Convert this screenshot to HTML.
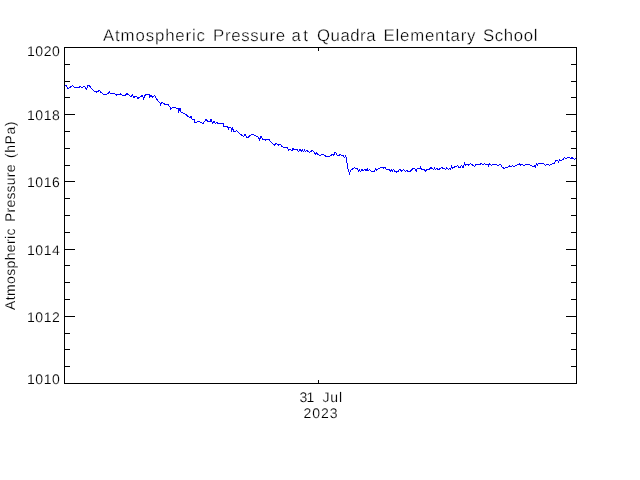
<!DOCTYPE html>
<html><head><meta charset="utf-8"><title>Atmospheric Pressure at Quadra Elementary School</title>
<style>
html,body{margin:0;padding:0;background:#fff;}
svg{display:block;}
text{font-family:"Liberation Sans",sans-serif;fill:#000;stroke:#fff;stroke-width:0.3px;paint-order:fill stroke;text-rendering:geometricPrecision;}
svg{will-change:transform;}
.t{font-size:16.8px;}
.s{font-size:14px;}
.s text{stroke-width:0.15px;}
</style></head>
<body>
<svg width="640" height="480" viewBox="0 0 640 480">
<rect width="640" height="480" fill="#fff"/>
<g fill="#000" shape-rendering="crispEdges">
<rect x="64" y="47" width="513" height="1"/><rect x="64" y="383" width="513" height="1"/>
<rect x="64" y="47" width="1" height="337"/><rect x="576" y="47" width="1" height="337"/>
<rect x="65" y="64" width="5" height="1"/><rect x="571" y="64" width="5" height="1"/><rect x="65" y="81" width="5" height="1"/><rect x="571" y="81" width="5" height="1"/><rect x="65" y="97" width="5" height="1"/><rect x="571" y="97" width="5" height="1"/><rect x="65" y="114" width="10" height="1"/><rect x="566" y="114" width="10" height="1"/><rect x="65" y="131" width="5" height="1"/><rect x="571" y="131" width="5" height="1"/><rect x="65" y="148" width="5" height="1"/><rect x="571" y="148" width="5" height="1"/><rect x="65" y="165" width="5" height="1"/><rect x="571" y="165" width="5" height="1"/><rect x="65" y="181" width="10" height="1"/><rect x="566" y="181" width="10" height="1"/><rect x="65" y="198" width="5" height="1"/><rect x="571" y="198" width="5" height="1"/><rect x="65" y="215" width="5" height="1"/><rect x="571" y="215" width="5" height="1"/><rect x="65" y="232" width="5" height="1"/><rect x="571" y="232" width="5" height="1"/><rect x="65" y="249" width="10" height="1"/><rect x="566" y="249" width="10" height="1"/><rect x="65" y="265" width="5" height="1"/><rect x="571" y="265" width="5" height="1"/><rect x="65" y="282" width="5" height="1"/><rect x="571" y="282" width="5" height="1"/><rect x="65" y="299" width="5" height="1"/><rect x="571" y="299" width="5" height="1"/><rect x="65" y="316" width="10" height="1"/><rect x="566" y="316" width="10" height="1"/><rect x="65" y="333" width="5" height="1"/><rect x="571" y="333" width="5" height="1"/><rect x="65" y="349" width="5" height="1"/><rect x="571" y="349" width="5" height="1"/><rect x="65" y="366" width="5" height="1"/><rect x="571" y="366" width="5" height="1"/><rect x="318" y="48" width="1" height="3"/><rect x="318" y="380" width="1" height="3"/>
</g>
<polyline fill="none" stroke="#0000ff" stroke-width="1" shape-rendering="crispEdges" stroke-linejoin="miter" points="64.5,85.5 66.5,85.5 68,89 70,87.5 72.5,85.5 74.5,87.5 79,87.5 80,86.5 82.5,87.5 84,86.5 85,87 86.5,89 88,85.5 89.5,86 92,89 94,91 96.5,92 99.5,90.5 101,92.5 103,94 106,94.5 108.5,93 109.5,91.5 110.5,94 114,93.5 116.5,95 118,94.5 120.5,94 122,95 125,95.5 127,93.5 129,95 131,97 132.5,95 134,97.5 135,96 136.5,96 138,98.5 140,97 141.5,96 142.5,95.5 143.5,98.5 145,95.5 147,94 149,94.5 149.5,97.5 151,95.5 152.5,97 154.5,95.5 156,98 158,101 160,103 160.5,106 161.5,102.5 163,103 165,104.5 168,104.5 170,107 170.5,109 172,108 173,107.5 175.5,107.5 177,108.5 178,108 178.5,112 180,108.5 181,112 183,113 185,114 187,115.5 189,117 190,118 191,116.5 192,119 194,119.5 194.5,122 197,122 199.5,121.5 202,123 203.5,123 206,119.5 207.5,121 210,122 211,119.5 212.5,123 214,121.5 215.5,123.5 217,122 218,123.5 220,123.5 222,124 223,123.5 224,126.5 227.5,126.5 228.5,130 229,127.5 231,128 231.5,130.5 232.5,128 233.5,131 235,132 236.5,130.5 238,132 240,134 242,135.5 243.5,136.5 245,134.5 246.5,137 248,137.5 250,135.5 252,134.5 254,135 256,136 257.5,136 258.5,137.5 259.5,139.5 261,136.5 262.5,139 265,139.5 265.5,140 267,139.5 269,139.5 270.5,141.5 272.5,143.5 274.5,145.5 275.5,143.5 278,144.5 278.5,145 280.5,144.5 282.5,147 285.5,147.5 287,148 287.5,147.5 288.5,150.5 289.5,149.5 291,150 292,150.5 293,148.5 294,150 295,149.5 297.5,150 298.5,151.5 300,149.5 301.5,151 302.5,150 303.5,151.5 304.5,150 305.5,151.5 306.5,150.5 307.5,151 309.5,152.5 310.5,151.5 312.5,150.5 314,152 315.5,154.5 316.5,152.5 318,154.5 320.5,155.5 321.5,154.5 323.5,154.5 326,156.5 328,156 329.5,156.5 331.5,155 333,154.5 334,155.5 335,152.5 336,153 337.5,155.5 339,155.5 340,154.5 341.5,155.5 343,155.5 344.5,157.5 345.5,156 346.5,157.5 347,163 347.5,168.5 348.5,170 349.5,173.5 350.5,170.5 352.5,169 354.5,167.5 356,168.5 357.5,169 358.5,171.5 359.5,170 360.5,171.5 362,169 363,171 364,170 365.5,169.5 366,171 367.5,169 368,171 369.5,169.5 370.5,171 374.5,171.5 375.5,168.5 376.5,170 378,169 380.5,167.5 383,167.5 383.5,168.5 385,167.5 386,169 388.5,169 390.5,171 391.5,170 392.5,171 393.5,169.5 394.5,171 396.5,172 398.5,171 400,169 401,170.5 401.5,171.5 403.5,169.5 405.5,171.5 407,170 408,171.5 410,171.5 412,169.5 413,168.5 415,169 416.5,171 417,169 418.5,168.5 420,169 420.5,167.5 421.5,169.5 424,169.5 425.5,171.5 426.5,169.5 429.5,169.5 430.5,167.5 432.5,168.5 433.5,169.5 434.5,168 435.5,169.5 436.5,168.5 438.5,169.5 440.5,168.5 442,167.5 443,168.5 444,168 445.5,169.5 446.5,168 448.5,169.5 449.5,168.5 450.5,169.5 451.5,166.5 452.5,168.5 454.5,167 456,166.5 457.5,165.5 458.5,167 460,167.5 461.5,165.5 463,167.5 464.5,163.5 465.5,165.5 467,164 468.5,165 470.5,163.5 472.5,165 474.5,166.5 476,164.5 478.5,164.5 480,164.5 481,163.5 483,164.5 484.5,163.5 486,164.5 488,164.5 488.5,165.5 489.5,163.5 490.5,164.5 491.5,165.5 493,164.5 496,164.5 497.5,165.5 499,165 500.5,164.5 501.5,166 502.5,167.5 504.5,168.5 505.5,167 508,167 509.5,166 511,166.5 512.5,165.5 513.5,166.5 515,166 517,165 519.5,163.5 520.5,165.5 522,164.5 524,165.5 526,164.5 529,164.5 531,165.5 533,166.5 534.5,166 535.5,167.5 536.5,163.5 537.5,165 538.5,163.5 543,163.5 544.5,164.5 545.5,165.5 546.5,164.5 548,164.5 549.5,165.5 551,164.5 553,163.5 554.5,163.5 555.5,160.5 557.5,160.5 558.5,162 559.5,159.5 561,160.5 562.5,159.5 563.5,159 564.5,157.5 566,158.5 568,157.5 569.5,157.5 570.5,158.5 572.5,157.5 573,158.5 574.5,159.5 576,158.5"/>
<g class="t"><text x="103" y="41" textLength="102" lengthAdjust="spacing">Atmospheric</text><text x="213" y="41" textLength="72" lengthAdjust="spacing">Pressure</text><text x="291.5" y="41" textLength="16.5" lengthAdjust="spacing">at</text><text x="317" y="41" textLength="58.5" lengthAdjust="spacing">Quadra</text><text x="383.5" y="41" textLength="92.0" lengthAdjust="spacing">Elementary</text><text x="483" y="41" textLength="54.5" lengthAdjust="spacing">School</text></g>
<g class="s">
<text x="26.9" y="56" textLength="32.9" lengthAdjust="spacing">1020</text><text x="26.9" y="120" textLength="32.9" lengthAdjust="spacing">1018</text><text x="26.9" y="187" textLength="32.9" lengthAdjust="spacing">1016</text><text x="26.9" y="255" textLength="32.9" lengthAdjust="spacing">1014</text><text x="26.9" y="322" textLength="32.9" lengthAdjust="spacing">1012</text><text x="26.9" y="384" textLength="32.9" lengthAdjust="spacing">1010</text>
<text x="299.5" y="402" textLength="14.800000000000011" lengthAdjust="spacing">31</text><text x="322.5" y="402" textLength="19.5" lengthAdjust="spacing">Jul</text>
<text x="303.5" y="418" textLength="34.0" lengthAdjust="spacing">2023</text>
<g transform="translate(15,310) rotate(-90)"><text x="0" y="0" textLength="81.5" lengthAdjust="spacing">Atmospheric</text><text x="88" y="0" textLength="57.5" lengthAdjust="spacing">Pressure</text><text x="152" y="0" textLength="36.5" lengthAdjust="spacing">(hPa)</text></g>
</g>
</svg>
</body></html>
